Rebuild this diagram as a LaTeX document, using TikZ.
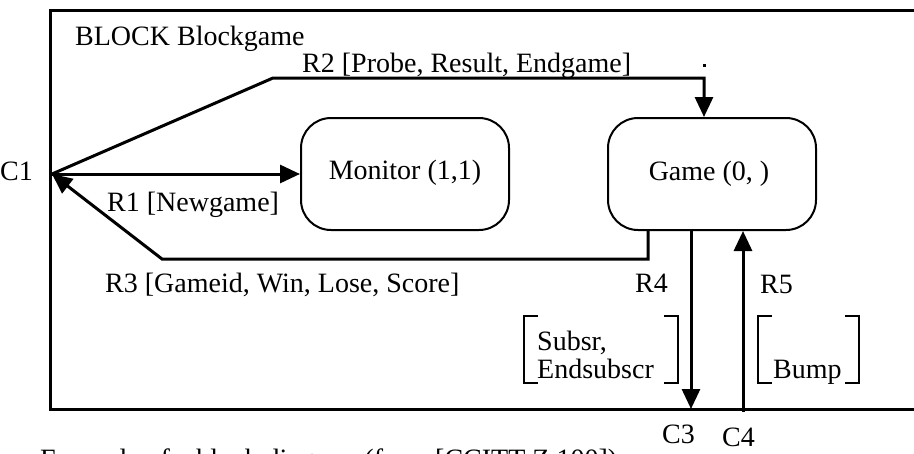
\documentclass[tikz,border=0pt]{standalone}
\usepackage{fontspec}
\setmainfont{Liberation Serif}
\usetikzlibrary{arrows.meta}
\begin{document}
\begin{tikzpicture}[x=1pt,y=-1pt,
  lbl/.style={inner sep=0pt,anchor=base west,font=\fontsize{28}{32}\selectfont},
  proc/.style={draw,line width=2pt,rounded corners=30pt,minimum width=208pt,minimum height=112pt,inner sep=0pt,font=\fontsize{28}{32}\selectfont},
  arr/.style={line width=3pt,-{Triangle[length=20pt,width=18pt]}},
  conn/.style={line width=3pt},
  brk/.style={line width=2.5pt}]
\useasboundingbox (0,0) rectangle (914,453);
\clip (0,0) rectangle (914,453);
% block frame
\draw[line width=3pt] (930,10) -- (50,10) -- (50,409) -- (930,409);
\node[lbl] (title) at (75,45) {BLOCK Blockgame};
% channel end points
\coordinate (c1) at (52,174);
\coordinate (c3) at (691,409);
\coordinate (c4) at (743,412);
\coordinate (r2bend) at (273,78);
\coordinate (r3bend) at (162,259);
% processes
\node[proc] (monitor) at (405,174) {};
\node[proc] (game) at (712,174) {};
\node[lbl,anchor=base] (montxt) at (monitor.center) [yshift=-5pt] {Monitor (1,1)};
\node[lbl,anchor=base] (gametxt) at (game.center) [xshift=-3pt,yshift=-6pt] {Game (0, )};
% connectors
\draw[arr] (c1) -- (monitor.west);
\draw[arr] (c1) -- (r2bend) -| ([xshift=-8pt]game.north);
\draw[arr] ([xshift=-64pt]game.south) -- ([xshift=-64pt]game.south |- r3bend) -- (r3bend) -- (c1);
\draw[arr] ([xshift=-21pt]game.south) -- (c3);
\draw[arr] (c4) -- ([xshift=31pt]game.south);
\fill (702.5,63.5) rectangle (705.5,66.5);
% labels
\node[lbl] (c1lbl) at (0,180) {C1};
\node[lbl] (r2lbl) at (302,72) {R2 [Probe, Result, Endgame]};
\node[lbl] (r1lbl) at (107,211) {R1 [Newgame]};
\node[lbl] (r3lbl) at (105,292) {R3 [Gameid, Win, Lose, Score]};
\node[lbl] (r4lbl) at (635,292) {R4};
\node[lbl] (r5lbl) at (760,293) {R5};
\node[lbl] (sub1) at (537,350) {Subsr,};
\node[lbl] (sub2) at (537,378) {Endsubscr};
\node[lbl] (bump) at (773,378) {Bump};
\node[lbl] (c3lbl) at (662,443) {C3};
\node[lbl] (c4lbl) at (722,446) {C4};
% brackets
\draw[brk] (538,316) -- (524,316) -- (524,383) -- (538,383);
\draw[brk] (664,316) -- (678,316) -- (678,383) -- (664,383);
\draw[brk] (772,316) -- (758,316) -- (758,383) -- (772,383);
\draw[brk] (845,316) -- (859,316) -- (859,383) -- (845,383);
% caption (cut off at the bottom, as in the reference)
\node[lbl] (caption) at (40,468) {Example of a block diagram (from [CCITT Z.100])};
\end{tikzpicture}
\end{document}
